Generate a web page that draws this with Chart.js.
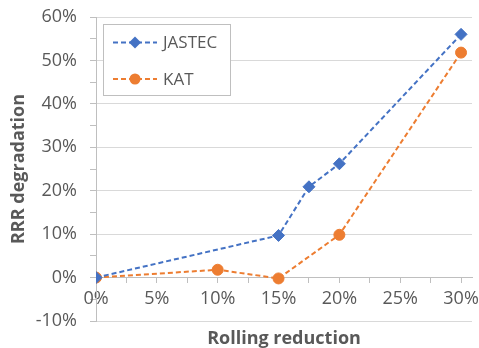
<!DOCTYPE html>
<html>
<head>
<meta charset="utf-8">
<script src="https://cdn.jsdelivr.net/npm/chart.js@4/dist/chart.umd.min.js"></script>
<style>
  html, body { margin: 0; padding: 0; background: #ffffff; }
  #wrap { position: relative; width: 479px; height: 348px; }
</style>
</head>
<body>
<div id="wrap"><canvas id="chart" width="479" height="348"></canvas></div>
<script>
// Rolling reduction (fraction) and RRR degradation (fraction) for each sample set
const jastecReduction = [0, 0.15, 0.175, 0.20, 0.30];
const jastecRRR       = [0, 0.097, 0.209, 0.262, 0.560];
const katReduction    = [0, 0.10, 0.15, 0.20, 0.30];
const katRRR          = [0, 0.018, -0.002, 0.0985, 0.518];

const seriesNames = ['JASTEC', 'KAT'];
const xAxisTitle = 'Rolling reduction';
const yAxisTitle = 'RRR degradation';

const BLUE = '#4472C4';
const ORANGE = '#ED7D31';
const TEXT = '#595959';
const GRID = '#d9d9d9';
const AXIS = '#bfbfbf';
const FONT = "'Open Sans', 'Liberation Sans', sans-serif";

const pct = v => Math.round(v * 100) + '%';
const isMultiple = (v, step) => Math.abs(Math.round(v * 1000) % Math.round(step * 1000)) === 0;

function pairs(xs, ys) {
  return xs.map((x, i) => ({ x: x, y: ys[i] }));
}

function drawMarker(ctx, style, r, x, y) {
  if (style === 'rectRot') {
    ctx.moveTo(x, y - r);
    ctx.lineTo(x + r, y);
    ctx.lineTo(x, y + r);
    ctx.lineTo(x - r, y);
    ctx.closePath();
  } else {
    ctx.arc(x, y, r, 0, Math.PI * 2);
  }
}

// Axis titles and the boxed legend are drawn here
const decorations = {
  id: 'decorations',
  afterDraw(chart) {
    const ctx = chart.ctx;
    const area = chart.chartArea;
    ctx.save();

    // axis titles
    ctx.fillStyle = TEXT;
    ctx.font = 'bold 18px ' + FONT;
    ctx.textAlign = 'center';
    ctx.textBaseline = 'alphabetic';
    ctx.fillText(xAxisTitle, (area.left + area.right) / 2, 344);
    ctx.translate(24, (area.top + area.bottom) / 2);
    ctx.rotate(-Math.PI / 2);
    ctx.fillText(yAxisTitle, 0, 0);
    ctx.setTransform(1, 0, 0, 1, 0, 0);

    // legend box
    const box = { x: 103.5, y: 24.5, w: 127, h: 71 };
    ctx.fillStyle = '#ffffff';
    ctx.fillRect(box.x, box.y, box.w, box.h);
    ctx.strokeStyle = AXIS;
    ctx.lineWidth = 1;
    ctx.strokeRect(box.x, box.y, box.w, box.h);

    const rows = [42.5, 79];
    chart.data.datasets.forEach((ds, i) => {
      const y = rows[i];
      ctx.strokeStyle = ds.borderColor;
      ctx.lineWidth = ds.borderWidth;
      ctx.setLineDash(ds.borderDash);
      ctx.beginPath();
      ctx.moveTo(113, y);
      ctx.lineTo(157, y);
      ctx.stroke();
      ctx.setLineDash([]);
      ctx.fillStyle = ds.backgroundColor;
      ctx.beginPath();
      drawMarker(ctx, ds.pointStyle, ds.pointRadius, 135, y);
      ctx.fill();
      ctx.fillStyle = TEXT;
      ctx.font = '17px ' + FONT;
      ctx.textAlign = 'left';
      ctx.textBaseline = 'middle';
      ctx.fillText(ds.label, 163, y + 1);
    });
    ctx.restore();
  }
};

new Chart(document.getElementById('chart'), {
  type: 'line',
  data: {
    datasets: [
      {
        label: seriesNames[0],
        data: pairs(jastecReduction, jastecRRR),
        borderColor: BLUE,
        backgroundColor: BLUE,
        borderWidth: 2,
        borderDash: [5, 3],
        pointStyle: 'rectRot',
        pointRadius: 6,
        pointBorderWidth: 1,
        fill: false,
        tension: 0
      },
      {
        label: seriesNames[1],
        data: pairs(katReduction, katRRR),
        borderColor: ORANGE,
        backgroundColor: ORANGE,
        borderWidth: 2,
        borderDash: [5, 3],
        pointStyle: 'circle',
        pointRadius: 5.5,
        pointBorderWidth: 1,
        fill: false,
        tension: 0
      }
    ]
  },
  options: {
    responsive: false,
    animation: false,
    layout: { padding: { top: 17, right: 7, bottom: 27, left: 0 } },
    plugins: {
      legend: { display: false },
      tooltip: { enabled: false }
    },
    scales: {
      x: {
        type: 'linear',
        position: { y: 0 },
        min: 0,
        max: 0.309,
        afterBuildTicks(scale) {
          const ticks = [];
          for (let v = 0; v <= 0.3001; v += 0.025) ticks.push({ value: Math.round(v * 1000) / 1000 });
          scale.ticks = ticks;
        },
        afterFit(scale) { scale.paddingLeft = 0; scale.paddingRight = 0; },
        ticks: {
          autoSkip: false,
          maxRotation: 0,
          color: TEXT,
          font: { family: FONT, size: 18 },
          padding: 6,
          callback: v => (isMultiple(v, 0.05) ? pct(v) : '')
        },
        grid: {
          drawOnChartArea: false,
          drawTicks: true,
          tickLength: 5,
          tickColor: AXIS
        },
        border: { color: AXIS, width: 1 }
      },
      y: {
        min: -0.1,
        max: 0.6,
        afterFit(scale) { scale.width = 96; scale.paddingTop = 0; scale.paddingBottom = 0; },
        ticks: {
          stepSize: 0.05,
          autoSkip: false,
          color: TEXT,
          font: { family: FONT, size: 18 },
          padding: 13,
          callback: v => (isMultiple(v, 0.1) ? pct(v) : '')
        },
        grid: {
          color: c => (c.tick && isMultiple(c.tick.value, 0.1) ? GRID : 'rgba(0,0,0,0)'),
          tickColor: AXIS,
          tickLength: 6,
          lineWidth: 1
        },
        border: { color: AXIS, width: 1 }
      }
    }
  },
  plugins: [decorations]
});
</script>
</body>
</html>
